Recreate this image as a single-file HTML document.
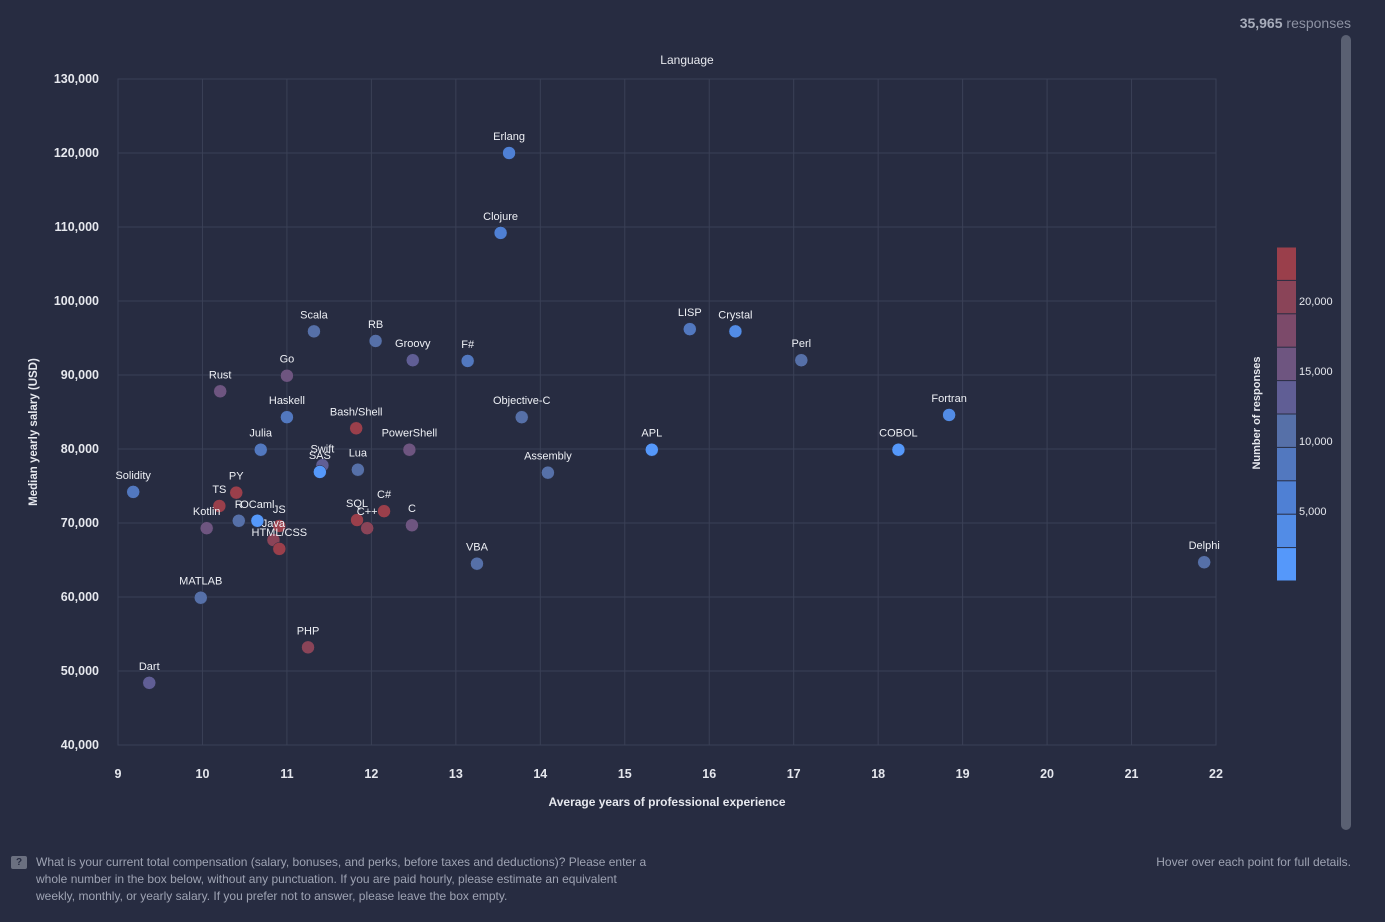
<!DOCTYPE html>
<html><head><meta charset="utf-8">
<style>
body{margin:0;width:1385px;height:922px;background:#272c41;overflow:hidden;font-family:"Liberation Sans",sans-serif;}
svg{position:absolute;left:0;top:0}
.note{position:absolute;left:36px;top:854px;width:622px;font-size:12px;line-height:17px;color:#9ea3b3}
.hover{position:absolute;right:34px;top:855px;font-size:12px;color:#9ea3b3}
.resp{position:absolute;right:34px;top:15px;font-size:14px;color:#8d92a3}
.resp b{color:#a8adbb}
.scroll{position:absolute;left:1341px;top:35px;width:10px;height:795px;border-radius:5px;background:#5a6072}
.qicon{position:absolute;left:11px;top:856px;width:16px;height:13px;background:#6b7080;border-radius:2px;color:#272c41;font-size:10px;font-weight:bold;text-align:center;line-height:13px}
</style></head><body>
<div class="resp"><b>35,965</b> responses</div>
<div class="scroll"></div>
<svg id="chart" width="1385" height="922"></svg>
<div class="qicon">?</div>
<div class="note">What is your current total compensation (salary, bonuses, and perks, before taxes and deductions)? Please enter a whole number in the box below, without any punctuation. If you are paid hourly, please estimate an equivalent weekly, monthly, or yearly salary. If you prefer not to answer, please leave the box empty.</div>
<div class="hover">Hover over each point for full details.</div>
<script>
const languages=["Erlang","Clojure","Scala","RB","Groovy","F#","LISP","Crystal","Perl","Go","Rust","Haskell","Objective-C","Fortran","Bash/Shell","Julia","PowerShell","APL","COBOL","Swift","SAS","Lua","Assembly","Solidity","PY","TS","C#","SQL","R","OCaml","C","C++","Kotlin","JS","Java","HTML/CSS","VBA","Delphi","MATLAB","PHP","Dart"];
const experience=[13.63,13.53,11.32,12.05,12.49,13.14,15.77,16.31,17.09,11.0,10.21,11.0,13.78,18.84,11.82,10.69,12.45,15.32,18.24,11.42,11.39,11.84,14.09,9.18,10.40,10.20,12.15,11.83,10.43,10.65,12.48,11.95,10.05,10.91,10.84,10.91,13.25,21.86,9.98,11.25,9.37];
const salary=[120000,109200,95900,94600,92000,91900,96200,95900,92000,89900,87800,84300,84300,84600,82800,79900,79900,79900,79900,77800,76900,77200,76800,74200,74100,72300,71600,70400,70300,70300,69700,69300,69300,69600,67700,66500,64500,64700,59900,53200,48400];
const responses=[6000,6000,10700,10700,13000,8300,8300,3600,10700,15500,15500,8300,10700,3600,23000,8300,15500,1200,1200,13000,1200,10700,10700,8300,23000,23000,23000,23000,10700,1200,15500,20000,15500,23000,20000,23000,10700,10700,10700,20000,13000];
const xTicks=[9,10,11,12,13,14,15,16,17,18,19,20,21,22];
const yTicks=[40000,50000,60000,70000,80000,90000,100000,110000,120000,130000];
const cbTicks=[5000,10000,15000,20000];
const palette=["#5598fa","#528ce6","#4f80d4","#5278bf","#5670a8","#605e95","#6e5580","#7c4a6a","#8a4458","#9a3f4b"];
const X0=118,X1=1216,Y0=745,Y1=79;
const xs=v=>X0+(v-9)/(22-9)*(X1-X0);
const ys=v=>Y0-(v-40000)/(130000-40000)*(Y0-Y1);
const cbMax=23850,CB0=581,CB1=247;
const cs=v=>CB0-v/cbMax*(CB0-CB1);
const col=v=>palette[Math.max(0,Math.min(9,Math.floor(v/cbMax*10)))];
const svg=document.getElementById('chart');const NS="http://www.w3.org/2000/svg";
function el(t,a,p){const e=document.createElementNS(NS,t);for(const k in a)e.setAttribute(k,a[k]);(p||svg).appendChild(e);return e;}
const fmt=n=>n.toLocaleString('en-US');
el('rect',{x:X0,y:Y1,width:X1-X0,height:Y0-Y1,fill:'none',stroke:'#3a4056'});
xTicks.forEach(t=>{const l=el('line',{x1:xs(t),x2:xs(t),y1:Y1,y2:Y0,stroke:'#3a4056'});

const tx=el('text',{x:xs(t),y:778,'text-anchor':'middle',fill:'#e6e8ee','font-size':12.5,'font-weight':'bold'});tx.textContent=t;
});
yTicks.forEach(t=>{const l=el('line',{x1:X0,x2:X1,y1:ys(t),y2:ys(t),stroke:'#3a4056'});

const tx=el('text',{x:99,y:ys(t)+4,'text-anchor':'end',fill:'#e6e8ee','font-size':12.5,'font-weight':'bold'});tx.textContent=fmt(t);
});
let t=el('text',{x:687,y:64,'text-anchor':'middle',fill:'#e6e8ee','font-size':12});t.textContent='Language';

t=el('text',{x:667,y:806,'text-anchor':'middle',fill:'#e6e8ee','font-size':12,'font-weight':'bold'});t.textContent='Average years of professional experience';

t=el('text',{x:37,y:432,'text-anchor':'middle',fill:'#e6e8ee','font-size':11.5,'font-weight':'bold',transform:'rotate(-90 37 432)'});t.textContent='Median yearly salary (USD)';

languages.forEach((n,i)=>{const x=xs(experience[i]),y=ys(salary[i]);
const c=el('circle',{cx:x,cy:y,r:6.5,fill:col(responses[i]),stroke:'#272c41','stroke-width':0.5});

const l=el('text',{x:x,y:y-13,'text-anchor':'middle',fill:'#eef0f5','font-size':11});l.textContent=n;
});
const segH=(CB0-CB1)/10;
palette.forEach((p,i)=>{const r=el('rect',{x:1277,y:CB0-(i+1)*segH+0.5,width:19,height:segH-1,fill:p});
});
cbTicks.forEach(v=>{const tx=el('text',{x:1299,y:cs(v)+4,fill:'#e6e8ee','font-size':11});tx.textContent=fmt(v);
});
t=el('text',{x:1260,y:413,'text-anchor':'middle',fill:'#e6e8ee','font-size':11,'font-weight':'bold',transform:'rotate(-90 1260 413)'});t.textContent='Number of responses';

</script>
</body></html>
